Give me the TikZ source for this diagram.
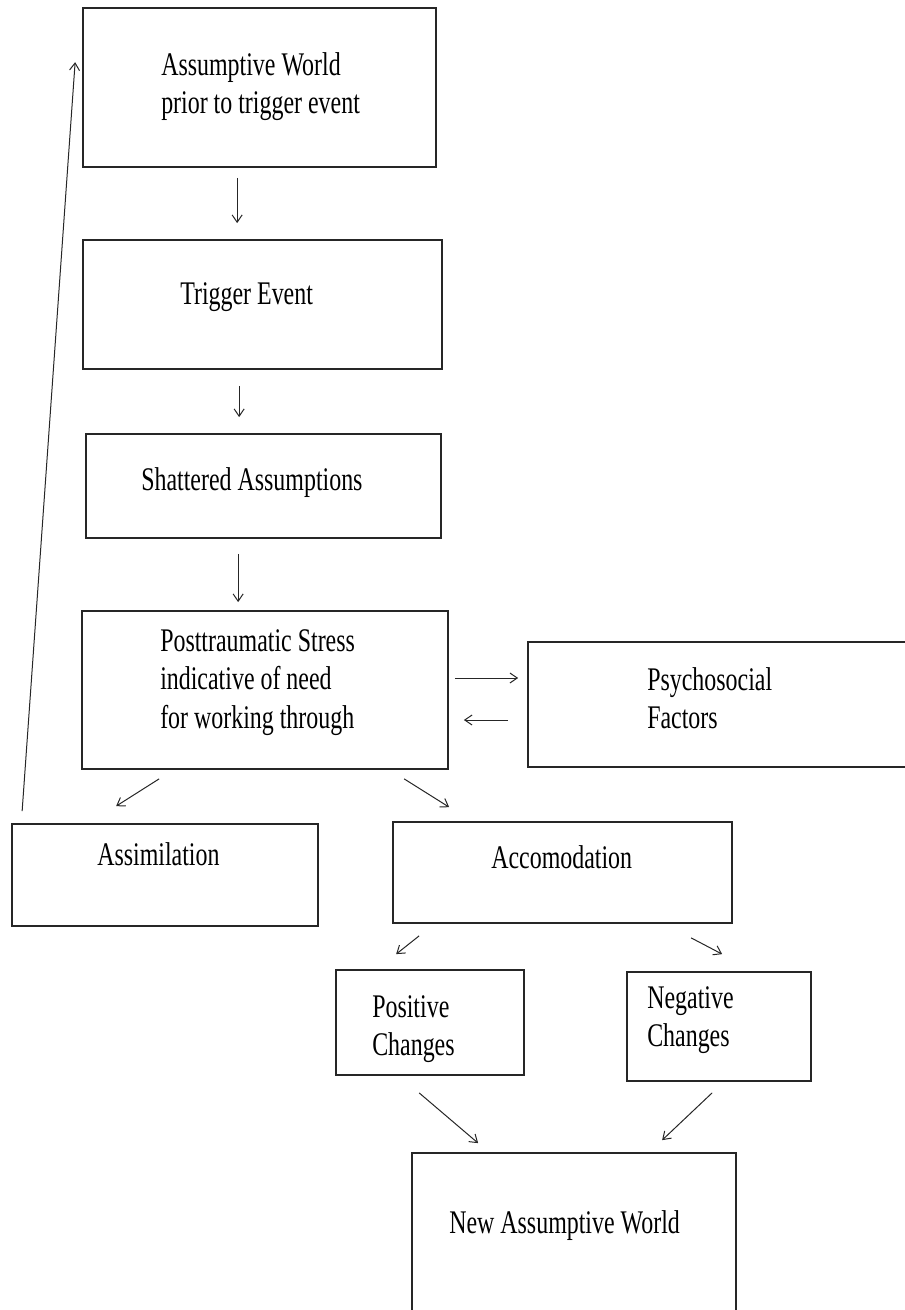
\documentclass[tikz,border=0pt]{standalone}
\usepackage{fontspec}
\setmainfont{Liberation Serif}[FakeStretch=0.725]
\usetikzlibrary{calc,fit,arrows.meta}

\begin{document}
\begin{tikzpicture}[x=0.75pt, y=-0.75pt, >={Straight Barb[length=5.5pt,width=7.5pt]},
        box/.style={draw=black!85, line width=1.3pt, inner sep=0pt},
        words/.style={align=left, inner sep=0pt, font=\fontsize{24.75}{28.6}\selectfont},
        link/.style={->, line width=0.75pt, black!85}]
        \useasboundingbox (0, 0) rectangle (905, 1310);
        \clip (0, 0) rectangle (905, 1310);
        \node[box, fit={(83, 8) (436, 167)}] (assumptive-world) {};
        \node[box, fit={(83, 240) (442, 369)}] (trigger-event) {};
        \node[box, fit={(86, 434) (441, 538)}] (shattered) {};
        \node[box, fit={(82, 611) (448, 769)}] (posttraumatic) {};
        \node[box, fit={(528, 642) (925, 767)}] (psychosocial) {};
        \node[box, fit={(12, 824) (318, 926)}] (assimilation) {};
        \node[box, fit={(393, 822) (732, 923)}] (accomodation) {};
        \node[box, fit={(336, 970) (524, 1075)}] (positive) {};
        \node[box, fit={(627, 972) (811, 1081)}] (negative) {};
        \node[box, fit={(412, 1153) (736, 1340)}] (new-world) {};
        \node[words, anchor=west] (assumptive-world-text) at (161, 86.5) {Assumptive World\\prior to trigger event};
        \node[words, anchor=base west] (trigger-event-text) at (180, 304) {Trigger Event};
        \node[words, anchor=base west] (shattered-text) at (141, 490) {Shattered Assumptions};
        \node[words, anchor=west] (posttraumatic-text) at (160, 682.5) {Posttraumatic Stress\\indicative of need\\for working through};
        \node[words, anchor=west] (psychosocial-text) at (647, 698) {Psychosocial\\Factors};
        \node[words, anchor=base west] (assimilation-text) at (97, 865) {Assimilation};
        \node[words, anchor=base west] (accomodation-text) at (491, 868) {Accomodation};
        \node[words, anchor=west] (positive-text) at (372, 1029) {Positive\\Changes};
        \node[words, anchor=west] (negative-text) at (647, 1020) {Negative\\Changes};
        \node[words, anchor=base west] (new-world-text) at (449, 1233) {New Assumptive World};
        \draw[link] ($(assumptive-world.south west)+(155, 10)$) -- ($(trigger-event.north west)+(155, -16)$);
        \draw[link] ($(trigger-event.south west)+(157, 16)$) -- ($(shattered.north west)+(154, -16)$);
        \draw[link] ($(shattered.south west)+(153, 15)$) -- ($(posttraumatic.north west)+(157, -8)$);
        \draw[link] ($(posttraumatic.east)+(6, -12)$) -- ($(psychosocial.west)+(-9, -26.5)$);
        \draw[link] ($(psychosocial.west)+(-19, 15.5)$) -- ($(posttraumatic.east)+(15, 30)$);
        \draw[link] ($(posttraumatic.south west)+(78, 9)$) -- ($(assimilation.north west)+(105, -17)$);
        \draw[link] ($(posttraumatic.south west)+(323, 9)$) -- ($(accomodation.north west)+(57, -14)$);
        \draw[link] ($(accomodation.south west)+(27, 12)$) -- ($(positive.north west)+(61, -15)$);
        \draw[link] ($(accomodation.south west)+(299, 14)$) -- ($(negative.north west)+(96, -17)$);
        \draw[link] ($(positive.south west)+(84, 17)$) -- ($(new-world.north west)+(67, -9)$);
        \draw[link] ($(negative.south west)+(86, 11)$) -- ($(new-world.north west)+(251, -12)$);
        \draw[link] ($(assimilation.north west)+(11, -12)$) -- ($(assumptive-world.north west)+(-7, 55)$);
\end{tikzpicture}
\end{document}
